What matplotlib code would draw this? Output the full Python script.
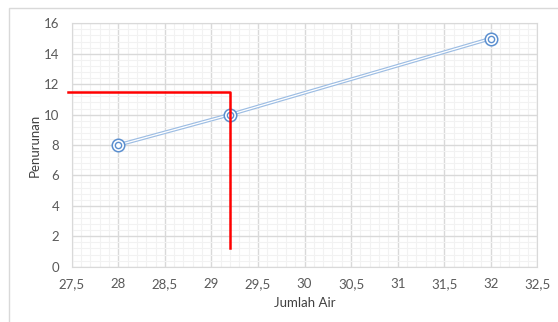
import matplotlib.pyplot as plt
from matplotlib.patches import Rectangle
from matplotlib.ticker import MultipleLocator, FuncFormatter

plt.rcParams['font.family'] = ['Lato', 'DejaVu Sans']

# data
jumlah_air = [28, 29.2, 32]
penurunan = [8, 10, 15]
# red guide line (reading at x = 29.2)
guide_x = [27.46, 29.2, 29.2]
guide_y = [11.5, 11.5, 1.2]

fig = plt.figure(figsize=(5.58, 3.22), dpi=100)
fig.patches.append(Rectangle((9 / 558, -0.1), 1.0, (322 - 8) / 322 + 0.1,
                             transform=fig.transFigure, fill=False,
                             edgecolor='#d9d9d9', linewidth=1))
ax = fig.add_axes([0.1285, 0.1717, 0.8345, 0.7559])

ax.set_xlim(27.5, 32.5)
ax.set_ylim(0, 16)
ax.xaxis.set_major_locator(MultipleLocator(0.5))
ax.xaxis.set_minor_locator(MultipleLocator(0.1))
ax.yaxis.set_major_locator(MultipleLocator(2))
ax.yaxis.set_minor_locator(MultipleLocator(0.4))
ax.xaxis.set_major_formatter(FuncFormatter(lambda v, p: ('%g' % v).replace('.', ',')))

ax.grid(which='major', color='#d9d9d9', linewidth=1)
ax.grid(which='minor', color='#f2f2f2', linewidth=0.8)
ax.set_axisbelow(True)
for s in ax.spines.values():
    s.set_color('#d9d9d9')
ax.tick_params(which='both', length=0, labelsize=9.5, colors='#595959')
ax.tick_params(axis='x', pad=8)
ax.tick_params(axis='y', pad=9)

# double line
ax.plot(jumlah_air, penurunan, color='#9dbde3', linewidth=2.6, solid_capstyle='butt', zorder=3)
ax.plot(jumlah_air, penurunan, color='white', linewidth=0.9, zorder=4)
ax.plot(jumlah_air, penurunan, linestyle='none', marker='o', markersize=9,
        markerfacecolor='white', markeredgecolor='#5b8fcf', markeredgewidth=1.1, zorder=5)
ax.plot(jumlah_air, penurunan, linestyle='none', marker='o', markersize=4.5,
        markerfacecolor='white', markeredgecolor='#5b8fcf', markeredgewidth=1.0, zorder=6)

ax.plot(guide_x, guide_y, color='#ff0000', linewidth=1.8, clip_on=False, zorder=7)

ax.set_xlabel('Jumlah Air', fontsize=9.5, color='#404040', labelpad=5)
ax.set_ylabel('Penurunan', fontsize=9.5, color='#404040', labelpad=2)

fig.savefig('out.png', dpi=100)
